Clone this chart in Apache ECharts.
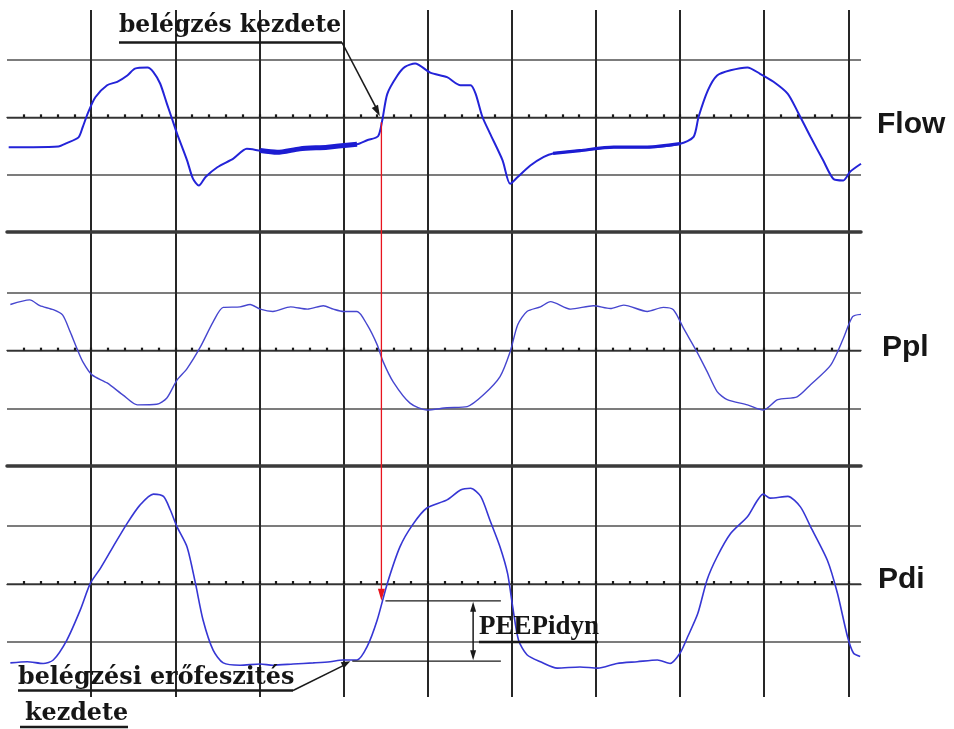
<!DOCTYPE html>
<html><head><meta charset="utf-8">
<script src="https://cdn.jsdelivr.net/npm/echarts@6/dist/echarts.min.js"></script>
<style>html,body{margin:0;padding:0;background:#fff}#c{width:954px;height:729px}</style>
</head><body><div id="c"></div>
<script>
// time axis in grid divisions, values in vertical divisions (0 = centre line of each trace)
const flowT = [0.02,0.31,0.61,0.71,0.85,0.90,0.96,1.05,1.19,1.31,1.43,1.52,1.67,1.74,1.82,1.90,1.96,2.02,2.14,2.21,2.28,2.36,2.50,2.69,2.85,3.01,3.21,3.48,3.81,4.16,4.28,4.41,4.46,4.52,4.64,4.73,4.85,5.03,5.23,5.39,5.51,5.57,5.65,5.74,5.89,5.98,6.07,6.22,6.38,6.49,6.81,7.21,7.61,8.00,8.16,8.22,8.33,8.44,8.60,8.80,8.95,9.11,9.28,9.40,9.55,9.70,9.82,9.94,10.02,10.15];
const flowV = [-0.52,-0.52,-0.51,-0.45,-0.35,-0.17,0.07,0.35,0.56,0.62,0.73,0.85,0.87,0.79,0.59,0.24,-0.02,-0.28,-0.75,-1.07,-1.19,-1.04,-0.87,-0.72,-0.55,-0.58,-0.61,-0.55,-0.52,-0.47,-0.40,-0.33,-0.05,0.41,0.73,0.88,0.94,0.78,0.70,0.56,0.56,0.41,0.01,-0.28,-0.75,-1.16,-1.04,-0.84,-0.69,-0.63,-0.58,-0.52,-0.52,-0.46,-0.34,0.01,0.47,0.73,0.82,0.87,0.76,0.62,0.41,0.09,-0.34,-0.75,-1.07,-1.10,-0.95,-0.81];
const pplT = [0.04,0.27,0.39,0.55,0.66,0.75,0.83,0.90,1.01,1.19,1.38,1.55,1.78,1.90,2.02,2.14,2.30,2.45,2.57,2.77,2.89,3.01,3.16,3.37,3.57,3.76,3.88,4.00,4.16,4.28,4.40,4.47,4.59,4.79,4.99,5.23,5.47,5.66,5.86,5.98,6.07,6.18,6.34,6.46,6.70,6.97,7.17,7.33,7.61,7.80,7.92,8.04,8.20,8.32,8.44,8.56,8.80,8.99,9.16,9.39,9.55,9.79,9.94,10.05,10.15];
const pplV = [0.80,0.88,0.78,0.71,0.62,0.33,0.04,-0.19,-0.42,-0.56,-0.77,-0.94,-0.93,-0.82,-0.51,-0.31,0.07,0.50,0.75,0.76,0.80,0.72,0.68,0.76,0.72,0.78,0.72,0.68,0.68,0.45,0.10,-0.19,-0.54,-0.91,-1.03,-0.99,-0.97,-0.77,-0.45,-0.02,0.45,0.68,0.76,0.85,0.72,0.78,0.73,0.79,0.68,0.75,0.71,0.39,-0.02,-0.36,-0.71,-0.85,-0.94,-1.03,-0.85,-0.80,-0.59,-0.25,0.21,0.59,0.63];
const pdiT = [0.04,0.24,0.43,0.55,0.71,0.87,0.99,1.11,1.26,1.43,1.58,1.74,1.86,1.94,2.02,2.14,2.24,2.33,2.45,2.57,2.77,3.01,3.16,3.40,3.64,3.84,3.99,4.16,4.28,4.40,4.52,4.67,4.82,4.99,5.23,5.39,5.51,5.63,5.74,5.86,5.95,6.01,6.08,6.18,6.34,6.54,6.81,7.02,7.25,7.49,7.73,7.88,8.00,8.09,8.21,8.32,8.44,8.60,8.80,8.99,9.07,9.28,9.43,9.55,9.75,9.87,9.99,10.06,10.14];
const pdiV = [-1.36,-1.34,-1.37,-1.31,-0.97,-0.45,0.01,0.27,0.64,1.05,1.36,1.55,1.51,1.28,0.99,0.64,0.01,-0.62,-1.14,-1.36,-1.40,-1.38,-1.40,-1.38,-1.36,-1.34,-1.31,-1.31,-1.08,-0.62,0.01,0.64,1.02,1.31,1.45,1.62,1.65,1.51,1.10,0.64,0.18,-0.39,-0.97,-1.22,-1.34,-1.45,-1.43,-1.45,-1.37,-1.34,-1.31,-1.37,-1.19,-0.91,-0.51,0.07,0.47,0.87,1.16,1.55,1.48,1.51,1.33,0.99,0.41,-0.16,-0.91,-1.19,-1.25];
// noisy stretches of the flow trace (start/end, in divisions)
const flowNoisy = [[3.0, 4.17], [6.45, 8.01]];
const traceLabels = ['Flow', 'Ppl', 'Pdi'];
// annotation anchors (divisions)
const inspStartT = 4.45, inspStartFlow = -0.05, inspStartPdi = -0.29;
const effortStartT = 4.08, effortStartPdi = -1.33;
const peepBracketEndT = 5.87, peepArrowT = 5.54;

const X_MAX = 10.15;
const minorTicks = [];
for (let i = 1; i <= 50; i++) minorTicks.push(+(i * 0.2).toFixed(1));

const zip = (a, b) => a.map((v, i) => [v, b[i]]);
const inRanges = (pts, ranges) => ranges.map(r => pts.filter(p => p[0] >= r[0] && p[0] <= r[1]));

const chart = echarts.init(document.getElementById('c'));
const gridPos = [{top: 60, height: 172}, {top: 293, height: 173}, {top: 526, height: 116}];
const grids = gridPos.map(g => ({left: 7, right: 93, top: g.top, height: g.height}));
grids.push({left: 7, right: 93, top: 10, bottom: 32});

const xAxes = [], yAxes = [];
const hidden = {axisLine: {show: false}, axisTick: {show: false}, axisLabel: {show: false}, splitLine: {show: false}};
[0, 1, 2].forEach(gi => {
  xAxes.push(Object.assign({}, hidden, {gridIndex: gi, type: 'value', min: 0, max: X_MAX, position: 'bottom',
    axisLine: {show: gi < 2, onZero: false, lineStyle: {color: '#3a3a3a', width: 3.5}}}));
  xAxes.push(Object.assign({}, hidden, {gridIndex: gi, type: 'value', min: 0, max: X_MAX, position: 'top',
    axisLine: {show: true, onZero: true, lineStyle: {color: '#333', width: 1.3}},
    axisTick: {show: true, customValues: minorTicks, length: 3, inside: false, lineStyle: {color: '#1a1a1a', width: 2.2}}}));
  yAxes.push(Object.assign({}, hidden, {gridIndex: gi, type: 'value', min: gi < 2 ? -2 : -1, max: 1, interval: 1,
    splitLine: {show: true, lineStyle: {color: '#505050', width: 1.5}}}));
});
xAxes.push(Object.assign({}, hidden, {gridIndex: 3, type: 'value', min: 0, max: X_MAX, interval: 1,
  splitLine: {show: true, showMinLine: false, showMaxLine: false, lineStyle: {color: '#262626', width: 2}}}));
yAxes.push(Object.assign({}, hidden, {gridIndex: 3, type: 'value', min: 0, max: 1}));

const flowPts = zip(flowT, flowV);
const lineS = (name, data, xi, yi, color, w, z) => ({
  name, type: 'line', xAxisIndex: xi, yAxisIndex: yi, data, showSymbol: false, smooth: 0.25,
  clip: false, silent: true, z: z || 3, lineStyle: {color, width: w}
});
const series = [
  lineS('Flow', flowPts, 0, 0, '#2323d8', 2),
  ...inRanges(flowPts, flowNoisy).map((d, i) => lineS('FlowNoise' + i, d, 0, 0, '#1c1cd2', i === 0 ? 5 : 3.2, 4)),
  lineS('Ppl', zip(pplT, pplV), 2, 1, '#4646cf', 1.4),
  lineS('Pdi', zip(pdiT, pdiV), 4, 2, '#3636d4', 1.6)
];

chart.setOption({animation: false, backgroundColor: '#fff', grid: grids, xAxis: xAxes, yAxis: yAxes, series});

// ---------- annotations ----------
const P = (gi, x, y) => chart.convertToPixel({xAxisIndex: gi * 2, yAxisIndex: gi}, [x, y]);
function seg(x1, y1, x2, y2, color, w) {
  return {type: 'line', z: 100, shape: {x1, y1, x2, y2}, style: {stroke: color, lineWidth: w}};
}
function head(x1, y1, x2, y2, len, wid, color) {
  const dx = x2 - x1, dy = y2 - y1, d = Math.hypot(dx, dy), ux = dx / d, uy = dy / d;
  const bx = x2 - ux * len, by = y2 - uy * len;
  return {type: 'polygon', z: 101, shape: {points: [[x2, y2], [bx - uy * wid / 2, by + ux * wid / 2], [bx + uy * wid / 2, by - ux * wid / 2]]}, style: {fill: color}};
}
function txt(text, x, y, font, extra) {
  return Object.assign({type: 'text', z: 102, style: {text, x, y, font, fill: '#161616', align: 'left', verticalAlign: 'middle', textAlign: 'left', textVerticalAlign: 'middle'}}, extra || {});
}
const g = [];
const pFlow = P(0, inspStartT, inspStartFlow);
const pPdi = P(2, inspStartT, inspStartPdi);
const pEff = P(2, effortStartT, effortStartPdi);
const xEnd = P(2, peepBracketEndT, 0)[0];
const xArr = P(2, peepArrowT, 0)[0];

// red vertical arrow
g.push(seg(pFlow[0], pFlow[1] + 2, pFlow[0], pPdi[1] - 6, '#e8141e', 1.3));
g.push(head(pFlow[0], pFlow[1], pFlow[0], pPdi[1], 12, 7, '#e8141e'));
// top label
g.push(txt('belégzés kezdete', 119, 26, 'bold 23.4px "DejaVu Serif"'));
g.push(seg(119, 42.5, 342, 42.5, '#1a1a1a', 2.5));
g.push(seg(342, 42.5, pFlow[0] - 3, pFlow[1] - 8, '#1a1a1a', 1.6));
g.push(head(342, 42.5, pFlow[0] - 1.5, pFlow[1] - 4, 11, 7, '#1a1a1a'));
// PEEPidyn bracket
g.push(seg(pPdi[0] + 4, pPdi[1], xEnd, pPdi[1], '#1a1a1a', 1.2));
g.push(seg(pEff[0] + 2, pEff[1], xEnd, pEff[1], '#1a1a1a', 1.2));
g.push(seg(xArr, pPdi[1] + 8, xArr, pEff[1] - 8, '#1a1a1a', 1.5));
g.push(head(xArr, pEff[1], xArr, pPdi[1] + 1, 10, 6, '#1a1a1a'));
g.push(head(xArr, pPdi[1], xArr, pEff[1] - 1, 10, 6, '#1a1a1a'));
g.push(txt('PEEPidyn', 479, 627, 'bold 27px "Liberation Serif"'));
g.push(seg(479, 642, 598, 642, '#1a1a1a', 2.5));
// bottom label
g.push(txt('belégzési erőfeszités', 18, 677.5, 'bold 23.8px "DejaVu Serif"'));
g.push(seg(18, 690.5, 293, 690.5, '#1a1a1a', 2.5));
g.push(seg(293, 690.5, pEff[0] - 4, pEff[1] + 3, '#1a1a1a', 1.5));
g.push(head(293, 690.5, pEff[0], pEff[1], 9, 7, '#1a1a1a'));
g.push(txt('kezdete', 25, 713.5, 'bold 23.8px "DejaVu Serif"'));
g.push(seg(20, 727, 128, 727, '#1a1a1a', 2.5));
// trace names
const labelY = [124.6, 347.6, 580];
const labelX = [877, 882, 878];
traceLabels.forEach((t, i) => g.push(txt(t, labelX[i], labelY[i], 'bold 30px "Liberation Sans"', {})));

chart.setOption({graphic: {elements: g}});
</script></body></html>
